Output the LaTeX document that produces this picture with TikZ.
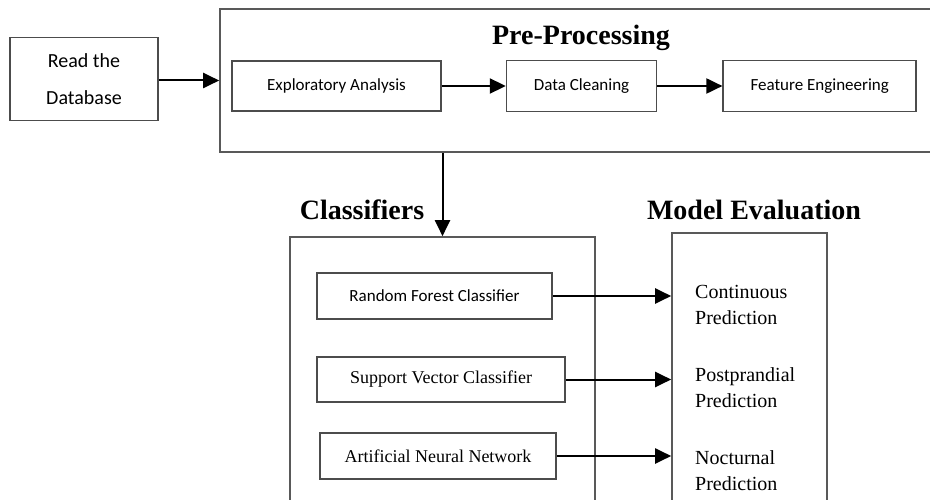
\documentclass[tikz,border=0pt]{standalone}
\usepackage{fontspec}
\setmainfont{Liberation Serif}
\newfontfamily\calibri{Carlito}
\usetikzlibrary{positioning,arrows.meta}
\tikzset{
    stage/.style = {
        draw = black!70,
        line width = 1.6pt,
        inner sep = 0pt,
        font = \calibri\fontsize{17}{20}\selectfont,
        },
    serif stage/.style = {
        stage,
        font = \fontsize{18}{20}\selectfont,
        },
    container/.style = {
        draw = black!65,
        line width = 1.6pt,
        inner sep = 0pt,
        },
    heading/.style = {
        font = \bfseries\fontsize{28}{32}\selectfont,
        },
    result/.style = {
        anchor = west,
        align = left,
        inner sep = 0pt,
        font = \fontsize{20}{26}\selectfont,
        },
    flow/.style = {
        -{Triangle[length=16pt,width=15pt]},
        line width = 2pt,
        },
}

\begin{document}
\begin{tikzpicture}[x=1pt, y=-1pt]
    \useasboundingbox (0,0) rectangle (930,500);

    % the three large frames (they run past the page edge)
    \node[container, minimum width=720pt, minimum height=143pt] (pre) at (580,80.5) {};
    \node[container, minimum width=305pt, minimum height=283pt] (clf) at (442.5,378.5) {};
    \node[container, minimum width=155pt, minimum height=287pt] (eval) at (749.5,376.5) {};

    \node[heading] (pretitle) at (581,38) {Pre-Processing};
    \node[heading] (clftitle) at (362,210) {Classifiers};
    \node[heading] (evaltitle) at (754,210) {Model Evaluation};

    \node[stage, minimum width=148pt, minimum height=83pt, align=center,
          font=\calibri\fontsize{20}{37}\selectfont] (read) at (84,79) {Read the\\Database};

    \node[stage, minimum width=209pt, minimum height=50pt] (expl) at (336.5,86) {Exploratory Analysis};
    \node[stage, minimum width=150pt, minimum height=51pt, right=64pt of expl] (clean) {Data Cleaning};
    \node[stage, minimum width=193pt, minimum height=51pt, right=65pt of clean] (feat) {Feature Engineering};

    \node[stage, minimum width=235pt, minimum height=46pt] (rf) at (434.5,296) {Random Forest Classifier};
    \node[serif stage, minimum width=248pt, minimum height=45pt] (svc) at (441,379.5) {Support Vector Classifier};
    \node[serif stage, minimum width=236pt, minimum height=46pt] (ann) at (438,456) {Artificial Neural Network};

    \node[result] (cont) at (695,305) {Continuous\\Prediction};
    \node[result] (post) at (695,388) {Postprandial\\Prediction};
    \node[result] (noct) at (695,471) {Nocturnal\\Prediction};

    \draw[flow] (read.east |- pre.west) -- (pre.west);
    \draw[flow] (expl) -- (clean);
    \draw[flow] (clean) -- (feat);
    \draw[flow] (pre.south -| clf.north) -- (clf.north);

    \draw[flow] (rf.east) -- (rf.east -| eval.west);
    \draw[flow] (svc.east) -- (svc.east -| eval.west);
    \draw[flow] (ann.east) -- (ann.east -| eval.west);
\end{tikzpicture}
\end{document}
